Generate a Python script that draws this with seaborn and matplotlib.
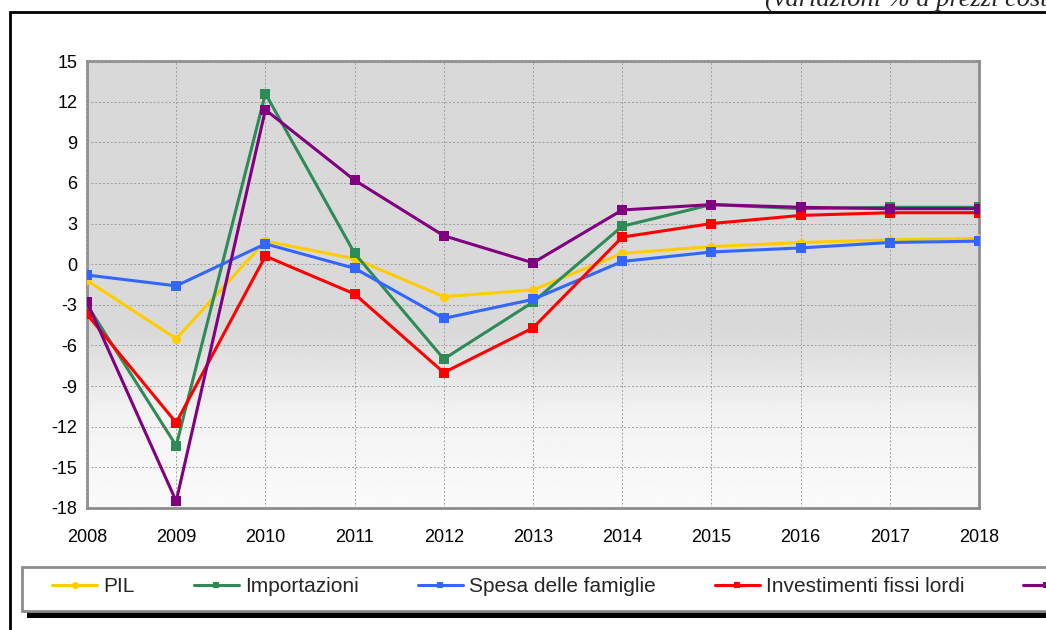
import numpy as np
import pandas as pd
import matplotlib
matplotlib.use('Agg')
import matplotlib.pyplot as plt
import seaborn as sns
from matplotlib.patches import Rectangle

# ── Data ──────────────────────────────────────────────────────────────────
years = [2008, 2009, 2010, 2011, 2012, 2013, 2014, 2015, 2016, 2017, 2018]
pil = [-1.2, -5.5, 1.7, 0.4, -2.4, -1.9, 0.8, 1.3, 1.6, 1.8, 1.9]
importazioni = [-3.0, -13.4, 12.6, 0.8, -7.0, -2.8, 2.8, 4.4, 4.1, 4.2, 4.2]
spesa_famiglie = [-0.8, -1.6, 1.5, -0.3, -4.0, -2.6, 0.2, 0.9, 1.2, 1.6, 1.7]
investimenti = [-3.7, -11.7, 0.6, -2.2, -8.0, -4.7, 2.0, 3.0, 3.6, 3.8, 3.8]
esportazioni = [-2.8, -17.5, 11.4, 6.2, 2.1, 0.1, 4.0, 4.4, 4.2, 4.1, 4.1]

series_names = ["PIL", "Importazioni", "Spesa delle famiglie",
                "Investimenti fissi lordi", "Esportazioni"]
series_values = [pil, importazioni, spesa_famiglie, investimenti, esportazioni]
y_ticks = [15, 12, 9, 6, 3, 0, -3, -6, -9, -12, -15, -18]

colors = {"PIL": "#ffcc00", "Importazioni": "#2e8b57",
          "Spesa delle famiglie": "#3366ff",
          "Investimenti fissi lordi": "#ff0000", "Esportazioni": "#800080"}
markers = {"PIL": "o", "Importazioni": "s", "Spesa delle famiglie": "s",
           "Investimenti fissi lordi": "s", "Esportazioni": "s"}

df = pd.DataFrame({
    "anno": np.tile(years, len(series_names)),
    "valore": np.concatenate(series_values),
    "serie": np.repeat(series_names, len(years)),
})

# ── Plot ──────────────────────────────────────────────────────────────────
sns.set_theme(style="white")
plt.rcParams['font.family'] = ['Liberation Sans', 'DejaVu Sans']
plt.rcParams['axes.unicode_minus'] = False

W, H = 1046, 630
fig = plt.figure(figsize=(W / 100, H / 100), dpi=100)
ax = fig.add_axes([87 / W, 1 - 508 / H, (979 - 87) / W, (508 - 61) / H])

# gradient background (grey at top fading to white at bottom)
ys = np.linspace(15, -18, 300)
shade = np.where(ys > -5, 0.851,
                 np.where(ys > -11, 0.851 + (-5 - ys) / 6 * (0.95 - 0.851),
                          0.95 + (-11 - ys) / 7 * (0.98 - 0.95)))
grad = np.repeat(shade[:, None], 2, axis=1)
ax.imshow(grad, cmap="gray", vmin=0, vmax=1, aspect="auto",
          extent=[2008, 2018, -18, 15], origin="upper", zorder=0)

sns.lineplot(data=df, x="anno", y="valore", hue="serie", style="serie",
             hue_order=series_names, style_order=series_names,
             palette=colors, markers=markers, dashes=False,
             linewidth=2.2, markersize=6.5, markeredgewidth=0,
             ax=ax, zorder=3)

ax.set_xlim(2008, 2018)
ax.set_ylim(-18, 15)
ax.set_xticks(years)
ax.set_xticklabels([str(y) for y in years])
ax.set_yticks(y_ticks)
ax.set_xlabel("")
ax.set_ylabel("")
ax.grid(True, color="#a0a0a0", linestyle=(0, (2, 2)), linewidth=0.7, zorder=1)
ax.set_axisbelow(False)
for sp in ax.spines.values():
    sp.set_color("#8c8c8c")
    sp.set_linewidth(2)
ax.tick_params(axis="both", which="both", length=5, width=1.5, color="#8c8c8c",
               labelsize=13, labelcolor="black", direction="out")
ax.tick_params(axis="x", pad=10)
ax.tick_params(axis="y", pad=2)

# legend box with black shadow (drawn by hand, runs off the right edge)
fig.patches.append(Rectangle((27 / W, 1 - 618 / H), 1.2, 10 / H,
                             transform=fig.transFigure, facecolor="black",
                             edgecolor="none", zorder=1))
fig.patches.append(Rectangle((22 / W, 1 - 611 / H), 1.2, 44 / H,
                             transform=fig.transFigure, facecolor="white",
                             edgecolor="#8c8c8c", linewidth=2, zorder=2))

handles, labels = ax.get_legend_handles_labels()
ax.get_legend().remove()
for h in handles:
    h.set_markersize(5)
leg = fig.legend(handles, labels, loc="center left",
                 bbox_to_anchor=(52 / W, 1 - 587 / H), ncol=5,
                 fontsize=15, frameon=False, borderpad=0, borderaxespad=0,
                 handlelength=2.16, handletextpad=0.3, columnspacing=2.83)
leg.set_zorder(3)

# outer frame (extends beyond the image on right and bottom)
fig.patches.append(Rectangle((10 / W, -0.2), 1.5, 1 - 12 / H + 0.2,
                             transform=fig.transFigure, fill=False,
                             edgecolor="black", linewidth=2, zorder=0))

fig.text(765 / W, 1 - 7 / H, "(variazioni % a prezzi costanti)",
         fontsize=19, style="italic", family=["Liberation Serif", "DejaVu Serif"],
         ha="left", va="baseline")

fig.savefig("out.png", dpi=100)
